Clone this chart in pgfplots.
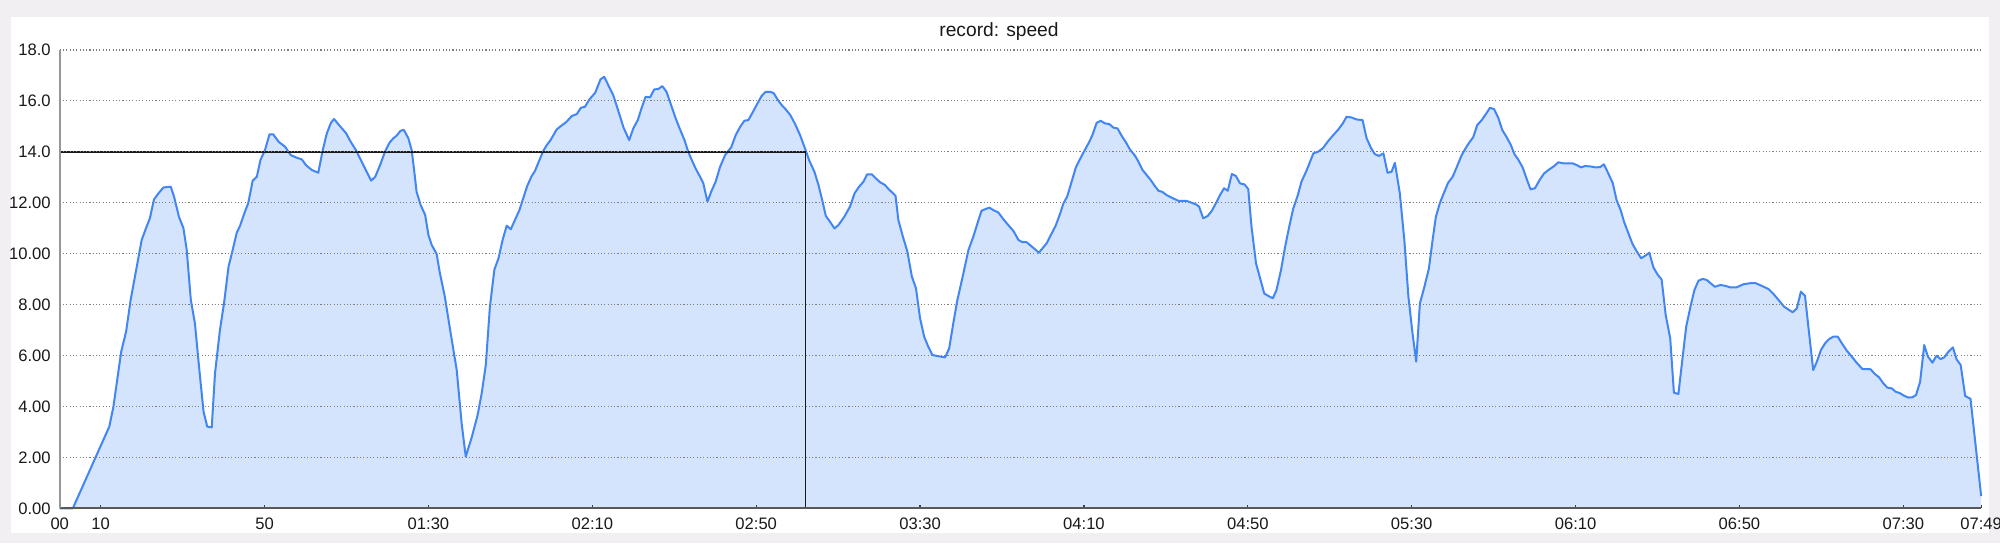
\documentclass[border=0pt]{standalone}
\usepackage{pgfplots}
\pgfplotsset{compat=1.18}
\usepackage{pgfplotstable}
\usepackage{fontspec}
\setmainfont{Liberation Sans}

\definecolor{bgc}{RGB}{242,239,242}
\definecolor{linec}{RGB}{66,133,244}
\definecolor{fillc}{RGB}{212,228,252}
\definecolor{gridc}{RGB}{150,150,150}
\definecolor{dotc}{RGB}{125,125,125}
\definecolor{txtc}{RGB}{25,25,25}

% speed record, t in seconds
\pgfplotstableread{
t v
0 0
3.2 0
12.1 3.21
13.1 3.99
15.0 6.15
16.2 6.94
17.3 8.18
18.8 9.49
20.0 10.54
21.2 11.06
22.0 11.39
23.0 12.13
24.1 12.37
25.3 12.60
27.1 12.63
27.9 12.24
29.1 11.45
30.2 11.0
31.0 10.14
32.0 8.18
33.0 7.26
34.0 5.56
35.1 3.80
36.0 3.21
37.1 3.18
37.9 5.30
39.1 7.0
40.1 8.05
41.2 9.49
42.4 10.27
43.2 10.82
44.0 11.09
45.2 11.65
46.0 11.98
47.1 12.87
48.1 13.02
49.0 13.68
50.1 14.07
51.2 14.69
52.1 14.69
53.4 14.40
55.0 14.20
56.4 13.87
57.7 13.78
59.1 13.70
60.1 13.48
61.5 13.29
63.1 13.18
64.2 14.07
65.2 14.73
66.2 15.14
66.95 15.29
68.4 15.01
69.9 14.73
71.0 14.40
72.3 14.07
74.1 13.48
76.0 12.87
77.0 13.02
78.2 13.48
79.4 14.01
80.5 14.36
81.4 14.53
82.2 14.63
83.2 14.83
84.0 14.86
85.1 14.53
85.9 14.07
86.5 13.29
87.1 12.43
88.1 11.91
89.2 11.52
90.0 10.73
90.8 10.34
92.0 9.99
92.8 9.23
94.0 8.31
95.3 7.0
96.9 5.43
98.1 3.34
99.1 2.03
100.6 2.81
102.0 3.66
103.0 4.52
104.0 5.63
105.0 7.92
106.1 9.38
107.1 9.82
108.1 10.54
109.1 11.10
110.1 10.96
111.1 11.32
112.2 11.71
113.2 12.21
114.1 12.66
115.2 13.05
116.0 13.25
117.1 13.68
118.0 14.03
118.9 14.27
119.8 14.46
121.3 14.88
122.3 15.01
123.7 15.18
125.0 15.41
126.2 15.48
127.2 15.73
128.2 15.77
129.3 16.06
130.7 16.32
132.0 16.85
132.9 16.95
133.9 16.62
135.1 16.23
136.4 15.58
137.6 14.96
139.0 14.46
140.0 14.92
141.1 15.25
142.0 15.71
143.0 16.16
144.1 16.14
145.1 16.45
146.1 16.47
147.1 16.58
148.1 16.36
149.1 15.90
150.2 15.38
151.2 14.96
152.5 14.46
153.4 14.01
154.1 13.74
155.2 13.35
156.3 13.02
157.1 12.76
158.1 12.04
159.0 12.43
160.1 12.83
161.2 13.42
162.4 13.87
163.9 14.18
165.0 14.66
166.0 14.96
167.1 15.22
168.1 15.25
169.1 15.54
170.1 15.84
171.3 16.19
172.3 16.36
173.4 16.36
174.3 16.30
175.2 16.06
176.2 15.84
177.2 15.67
178.3 15.45
179.5 15.09
180.7 14.66
181.9 14.14
182.9 13.68
184.2 13.22
185.2 12.70
186.1 12.11
187.0 11.48
188.0 11.26
189.1 10.99
190.1 11.13
191.5 11.45
192.9 11.85
194.0 12.37
195.1 12.63
196.2 12.83
197.1 13.12
198.2 13.12
199.2 12.96
200.2 12.81
201.4 12.70
202.3 12.54
204.0 12.28
204.7 11.32
205.8 10.67
206.9 10.08
208.0 9.10
209.0 8.64
210.0 7.46
211.0 6.74
212.0 6.35
213.0 6.02
214.9 5.96
216.1 5.93
217.1 6.28
218.1 7.26
219.1 8.18
220.4 9.10
221.8 10.14
223.0 10.67
224.0 11.19
225.0 11.69
226.9 11.81
227.9 11.71
229.1 11.62
230.3 11.36
231.5 11.13
232.8 10.89
234.0 10.54
235.0 10.45
236.0 10.45
237.5 10.25
239.0 10.04
240.9 10.41
242.0 10.76
243.1 11.10
244.2 11.58
245.0 11.98
245.9 12.24
247.0 12.83
248.0 13.38
249.0 13.70
250.0 14.01
251.1 14.33
252.0 14.63
253.1 15.14
254.1 15.22
255.1 15.12
256.2 15.09
257.2 14.95
258.2 14.92
259.2 14.63
260.3 14.36
261.2 14.10
262.5 13.84
263.3 13.61
264.3 13.29
265.3 13.09
266.3 12.89
267.3 12.66
268.2 12.47
269.1 12.43
270.2 12.30
271.4 12.20
273.0 12.08
275.1 12.07
276.3 12.0
277.3 11.94
278.1 11.85
279.1 11.39
280.2 11.48
281.2 11.68
282.2 11.98
283.2 12.30
284.2 12.57
285.1 12.47
286.1 13.13
287.1 13.05
288.1 12.76
289.2 12.72
290.1 12.54
290.9 11.06
292.0 9.62
293.0 9.03
294.0 8.44
295.0 8.34
296.1 8.25
297.0 8.57
298.1 9.36
299.1 10.27
300.1 11.06
301.1 11.78
302.2 12.30
303.1 12.83
304.4 13.29
306.0 13.94
307.2 14.01
308.3 14.14
309.5 14.40
310.7 14.63
312.1 14.88
313.2 15.12
314.1 15.38
315.3 15.35
316.6 15.27
318.0 15.25
319.0 14.53
320.1 14.14
321.0 13.91
322.0 13.84
323.1 13.94
324.1 13.18
325.1 13.22
325.9 13.57
327.1 12.37
328.2 10.54
329.2 8.31
330.2 6.87
331.1 5.76
332.0 8.05
333.1 8.70
334.2 9.42
335.1 10.54
335.9 11.45
336.9 12.0
337.9 12.40
338.9 12.79
340.0 13.02
341.1 13.44
342.2 13.87
343.3 14.18
344.2 14.40
345.0 14.57
346.0 15.05
347.1 15.25
348.1 15.48
349.1 15.73
350.1 15.68
351.1 15.35
352.1 14.86
353.2 14.57
354.2 14.27
355.1 13.90
356.0 13.70
357.1 13.38
358.1 12.92
359.0 12.53
360.1 12.57
361.2 12.89
362.3 13.15
363.4 13.29
364.6 13.42
365.8 13.59
367.0 13.55
368.2 13.55
369.3 13.55
370.3 13.48
371.3 13.39
372.3 13.44
373.5 13.43
374.9 13.39
376.0 13.40
376.9 13.51
378.0 13.15
379.1 12.76
380.0 12.11
381.0 11.71
381.9 11.22
382.9 10.80
383.9 10.38
384.9 10.10
386.0 9.82
387.0 9.92
388.0 10.04
389.0 9.46
390.1 9.16
391.0 8.99
392.0 7.59
393.1 6.68
394.0 4.54
395.1 4.49
396.1 5.89
397.0 7.13
398.0 7.89
399.0 8.57
400.0 8.94
401.0 9.01
402.0 8.97
402.8 8.86
404.0 8.70
405.3 8.77
406.5 8.74
407.7 8.68
409.3 8.68
411.0 8.80
412.6 8.84
414.0 8.84
415.4 8.74
417.1 8.61
418.3 8.42
419.7 8.15
420.9 7.92
421.9 7.81
423.0 7.70
424.0 7.85
425.0 8.51
426.0 8.35
427.0 6.87
428.0 5.43
428.9 5.76
429.9 6.22
430.9 6.48
431.9 6.65
432.9 6.74
434.0 6.74
435.0 6.48
436.2 6.19
437.4 5.96
438.6 5.72
440.0 5.47
441.1 5.47
442.0 5.46
443.1 5.27
444.1 5.14
445.1 4.91
446.1 4.74
447.2 4.71
448.1 4.58
449.2 4.52
450.2 4.42
451.2 4.35
452.2 4.36
453.1 4.45
454.1 4.97
455.1 6.41
456.0 5.96
457.1 5.72
458.1 5.99
459.1 5.86
460.0 5.93
461.0 6.15
462.1 6.32
463.0 5.85
464.0 5.63
465.1 4.41
466.4 4.30
469.0 0.48
}\speed

\begin{document}
\begin{tikzpicture}
% page = 2000x543 px, 1 px = 0.5pt
\useasboundingbox (0,0) rectangle (1000pt,271.5pt);
\fill[bgc] (0,0) rectangle (1000pt,271.5pt);
\fill[white] (5.5pt,5pt) rectangle (994.5pt,263pt);
\node[font=\fontsize{9.6}{11}\selectfont, text=txtc] at (499.5pt,255.5pt) {record: speed};

\begin{axis}[
  at={(29.87pt,17.35pt)}, anchor=south west,
  scale only axis,
  width=960.7pt, height=229.15pt,
  xmin=0, xmax=469, ymin=0, ymax=18,
  axis x line=bottom, axis y line=left,
  axis line style={-},
  x axis line style={draw=black!65, line width=0.9pt},
  y axis line style={draw=gridc, line width=0.8pt},
  axis on top, clip=false,
  xtick={0,10,50,90,130,170,210,250,290,330,370,410,450,469},
  xticklabels={00,10,50,01:30,02:10,02:50,03:30,04:10,04:50,05:30,06:10,06:50,07:30,07:49},
  ytick={0,2,...,18},
  yticklabels={0.00,2.00,4.00,6.00,8.00,10.00,12.00,14.0,16.0,18.0},
  tick align=inside,
  major tick length=1.6pt,
  x tick style={black!75, line width=0.6pt},
  y tick style={draw=none},
  ticklabel style={font=\fontsize{8.3}{10}\selectfont, text=txtc},
  xticklabel style={yshift=-1.5pt},
  yticklabel style={xshift=-1pt},
  ymajorgrids,
  major grid style={dotc, line width=0.55pt, dash pattern=on 0.55pt off 1.1pt},
]
\addplot[draw=none, fill=fillc] table[x=t, y=v] {\speed} \closedcycle;
\addplot[linec, line width=1pt, line join=round] table[x=t, y=v] {\speed};
\draw[black!90, line width=0.85pt] (axis cs:0,14) -- (axis cs:182,14) -- (axis cs:182,0);
\end{axis}
\end{tikzpicture}
\end{document}
